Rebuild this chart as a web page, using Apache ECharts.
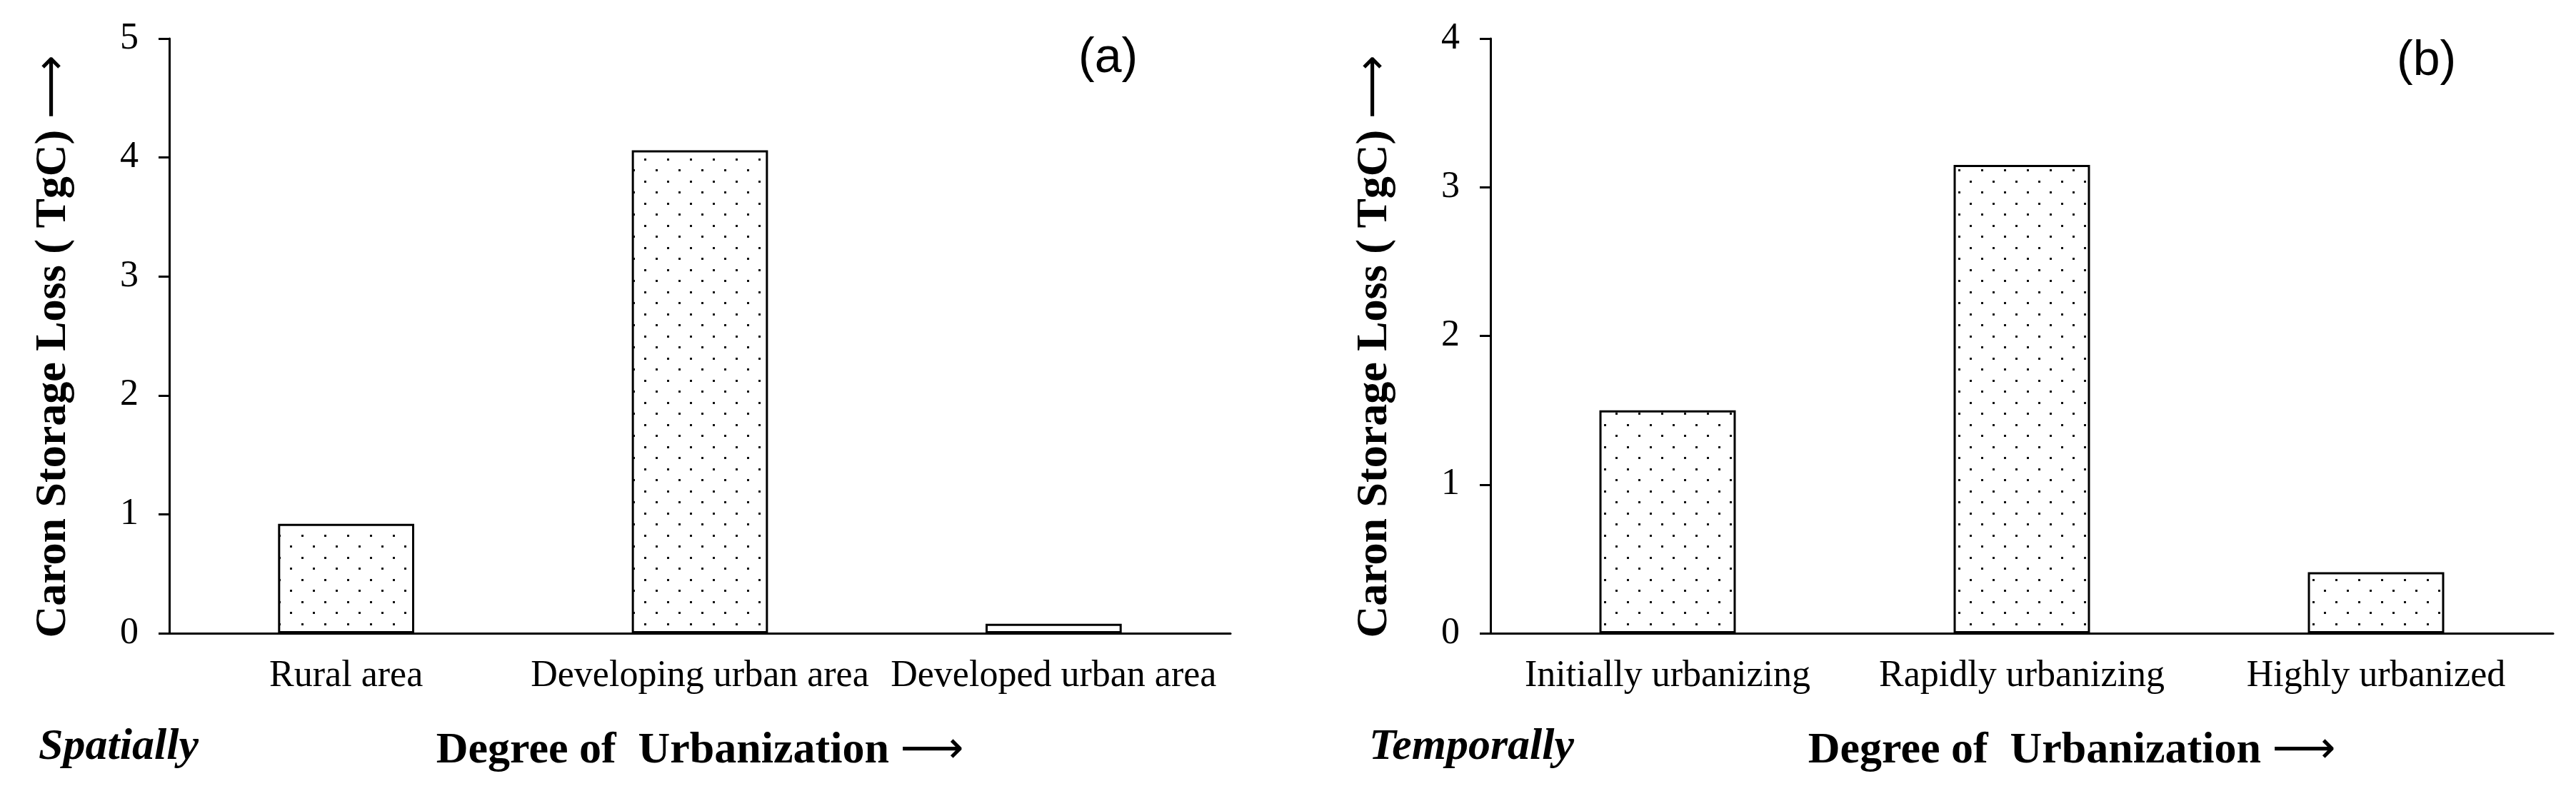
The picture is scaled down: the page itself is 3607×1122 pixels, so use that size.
<!DOCTYPE html>
<html>
<head>
<meta charset="utf-8">
<script src="https://cdn.jsdelivr.net/npm/echarts@6/dist/echarts.min.js"></script>
<style>
  html, body { margin: 0; padding: 0; background: #fff; }
  #chart { width: 3607px; height: 1122px; }
</style>
</head>
<body>
<div id="chart"></div>
<script>
// ---- data ----
const leftCategories = ['Rural area', 'Developing urban area', 'Developed urban area'];
const leftValues = [0.92, 4.06, 0.08];
const rightCategories = ['Initially urbanizing', 'Rapidly urbanizing', 'Highly urbanized'];
const rightValues = [1.50, 3.15, 0.41];
const leftYMax = 5;
const rightYMax = 4;
const yInterval = 1;
const yAxisTitle = 'Caron Storage Loss ( TgC) {arr|\u27F6}';
const xAxisTitle = 'Degree of  Urbanization {arr|\u27F6}';
const leftTag = '(a)';
const rightTag = '(b)';
const leftNote = 'Spatially';
const rightNote = 'Temporally';

// ---- style helpers ----
const SERIF = '"Liberation Serif", "Times New Roman", serif';
const SANS = '"Liberation Sans", Arial, sans-serif';
const arrowRich = { arr: { fontFamily: '"DejaVu Sans", sans-serif', fontWeight: 'normal', fontSize: 62, color: '#000' } };

function makeDots() {
  const c = document.createElement('canvas');
  c.width = 32; c.height = 31;
  const g = c.getContext('2d');
  g.fillStyle = '#fff';
  g.fillRect(0, 0, 32, 31);
  g.fillStyle = '#111';
  g.fillRect(6, 5, 3, 3);
  g.fillRect(22, 20, 3, 3);
  return c;
}
const dotPattern = { image: makeDots(), repeat: 'repeat' };

function xAxisFor(idx, cats, namePad) {
  return {
    type: 'category', gridIndex: idx, data: cats,
    axisLine: { show: true, lineStyle: { color: '#000', width: 3 } },
    axisTick: { show: false },
    axisLabel: { interval: 0, margin: 34, color: '#000', fontFamily: SERIF, fontSize: 52 },
    name: xAxisTitle, nameLocation: 'middle', nameGap: 134,
    nameTextStyle: { fontFamily: SERIF, fontWeight: 'bold', fontSize: 62, color: '#000', padding: namePad, rich: arrowRich }
  };
}
function yAxisFor(idx, max) {
  return {
    type: 'value', gridIndex: idx, min: 0, max: max, interval: yInterval,
    axisLine: { show: true, lineStyle: { color: '#000', width: 3 } },
    axisTick: { show: true, inside: false, length: 15, lineStyle: { color: '#000', width: 3 } },
    axisLabel: { margin: 43, color: '#000', fontFamily: SERIF, fontSize: 52 },
    splitLine: { show: false },
    name: yAxisTitle, nameLocation: 'middle', nameGap: 131, nameRotate: 90,
    nameTextStyle: { fontFamily: SERIF, fontWeight: 'bold', fontSize: 62, color: '#000', padding: [0, 30, 0, 0], rich: arrowRich }
  };
}
function barSeries(idx, vals) {
  return {
    type: 'bar', xAxisIndex: idx, yAxisIndex: idx, data: vals,
    barWidth: '38.5%',
    itemStyle: { color: dotPattern, borderColor: '#000', borderWidth: 3 },
    silent: true
  };
}

const chart = echarts.init(document.getElementById('chart'), null, { renderer: 'canvas' });
chart.setOption({
  backgroundColor: '#fff',
  animation: false,
  grid: [
    { left: 237, top: 54, width: 1486, height: 833 },
    { left: 2087, top: 54, width: 1488, height: 833 }
  ],
  xAxis: [xAxisFor(0, leftCategories, [0, 0, 0, 0]), xAxisFor(1, rightCategories, [0, 0, 0, 140])],
  yAxis: [yAxisFor(0, leftYMax), yAxisFor(1, rightYMax)],
  series: [barSeries(0, leftValues), barSeries(1, rightValues)],
  graphic: [
    { type: 'text', left: 1551 - 41, top: 86 - 38,
      style: { text: leftTag, font: '68px ' + SANS, fill: '#000' } },
    { type: 'text', left: 3397 - 41, top: 90 - 38,
      style: { text: rightTag, font: '68px ' + SANS, fill: '#000' } },
    { type: 'text', left: 54, top: 1052 - 36,
      style: { text: leftNote, font: 'italic bold 62px ' + SERIF, fill: '#000' } },
    { type: 'text', left: 1917, top: 1052 - 36,
      style: { text: rightNote, font: 'italic bold 62px ' + SERIF, fill: '#000' } }
  ]
});
</script>
</body>
</html>
